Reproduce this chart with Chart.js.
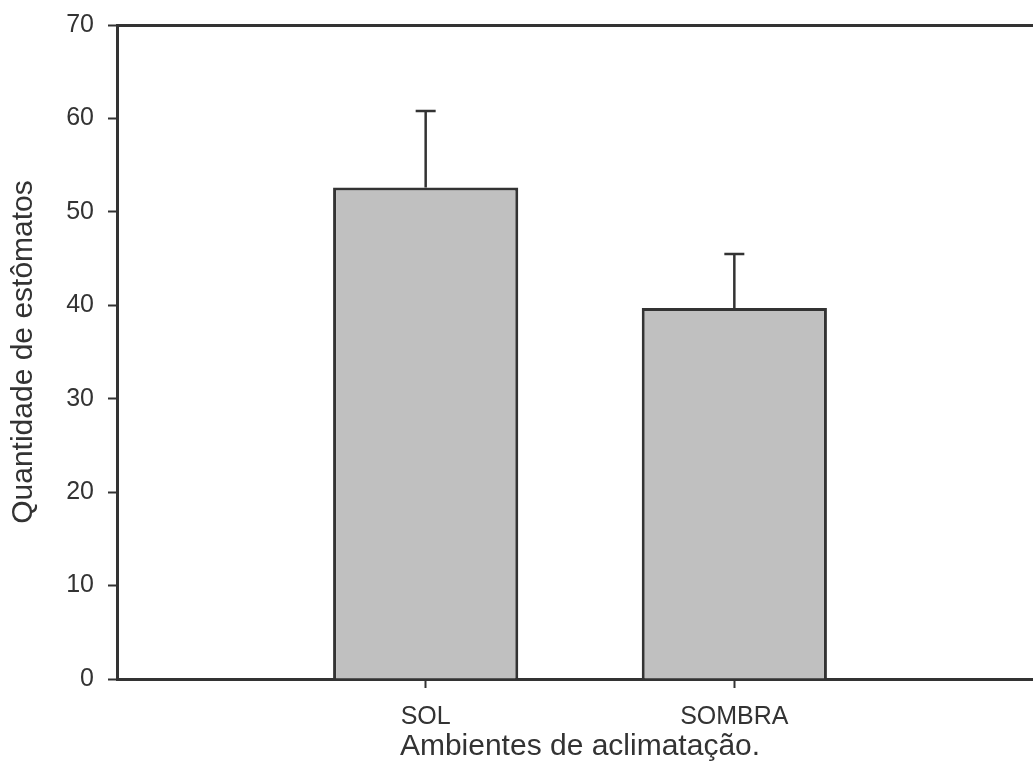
<!DOCTYPE html>
<html>
<head>
<meta charset="utf-8">
<script src="https://cdn.jsdelivr.net/npm/chart.js@4.4.1/dist/chart.umd.min.js"></script>
<style>
  html, body { margin: 0; padding: 0; background: #fff; overflow: hidden; }
  #wrap { width: 1060px; height: 782px; }
  #chart { width: 1060px !important; height: 782px !important; }
</style>
</head>
<body>
<div id="wrap"><canvas id="chart" width="1060" height="782"></canvas></div>
<script>
// category slots (empty ones keep the axis spacing of the original plot)
const categories = ['', 'SOL', 'SOMBRA', ''];
const meanValues = [null, 52.6, 39.7, null];
const errorValues = [null, 8.2, 5.8, null];
const yTicks = [0, 10, 20, 30, 40, 50, 60, 70];

const ink = '#333';
const fontFamily = '"Liberation Sans", Arial, sans-serif';

// draws the upper error bar of each bar using the chart scales
const errorBarsPlugin = {
  id: 'errorBars',
  afterDatasetsDraw(chart) {
    const ctx = chart.ctx;
    const yScale = chart.scales.y;
    const meta = chart.getDatasetMeta(0);
    ctx.save();
    ctx.strokeStyle = ink;
    ctx.lineWidth = 2.5;
    meta.data.forEach((bar, i) => {
      const v = meanValues[i];
      const e = errorValues[i];
      if (v == null || e == null) return;
      const x = bar.x;
      const yTop = yScale.getPixelForValue(v + e);
      const yBase = yScale.getPixelForValue(v);
      ctx.beginPath();
      ctx.moveTo(x, yBase);
      ctx.lineTo(x, yTop);
      ctx.moveTo(x - 10, yTop);
      ctx.lineTo(x + 10, yTop);
      ctx.stroke();
    });
    ctx.restore();
  }
};

new Chart(document.getElementById('chart'), {
  type: 'bar',
  data: {
    labels: categories,
    datasets: [{
      data: meanValues,
      backgroundColor: '#c0c0c0',
      borderColor: ink,
      borderWidth: 3,
      categoryPercentage: 1,
      barPercentage: 0.6
    }]
  },
  options: {
    responsive: false,
    animation: false,
    layout: { padding: { top: 0, right: 17, bottom: 0, left: 0 } },
    plugins: {
      legend: { display: false },
      tooltip: { enabled: false }
    },
    scales: {
      x: {
        position: 'bottom',
        offset: false,
        grid: {
          offset: false,
          drawOnChartArea: false,
          tickLength: 9,
          tickWidth: 2,
          tickColor: (c) => (c.tick && c.tick.label ? ink : 'rgba(0,0,0,0)')
        },
        border: { color: ink, width: 3 },
        ticks: {
          color: ink,
          padding: 14,
          maxRotation: 0,
          font: { family: fontFamily, size: 25 }
        },
        title: {
          display: true,
          text: 'Ambientes de aclimatação.',
          color: ink,
          padding: { top: 10, bottom: 17 },
          font: { family: fontFamily, size: 30 }
        },
        afterFit: (s) => { s.height = 103; }
      },
      xTop: {
        position: 'top',
        type: 'category',
        labels: categories,
        offset: false,
        grid: { display: false },
        border: { display: true, color: ink, width: 3 },
        ticks: { display: false },
        afterFit: (s) => { s.height = 25; }
      },
      y: {
        min: 0,
        max: 70,
        afterBuildTicks: (s) => { s.ticks = yTicks.map(v => ({ value: v })); },
        grid: {
          drawOnChartArea: false,
          tickLength: 9,
          tickWidth: 2,
          tickColor: ink
        },
        border: { color: ink, width: 3 },
        ticks: {
          color: ink,
          padding: 14,
          font: { family: fontFamily, size: 25 }
        },
        title: {
          display: true,
          text: 'Quantidade de estômatos',
          color: ink,
          padding: { top: 6, bottom: 6 },
          font: { family: fontFamily, size: 30 }
        },
        afterFit: (s) => {
          s.width = 117;
          s.paddingTop = 0;
          s.paddingBottom = 0;
        }
      }
    }
  },
  plugins: [errorBarsPlugin]
});
</script>
</body>
</html>
